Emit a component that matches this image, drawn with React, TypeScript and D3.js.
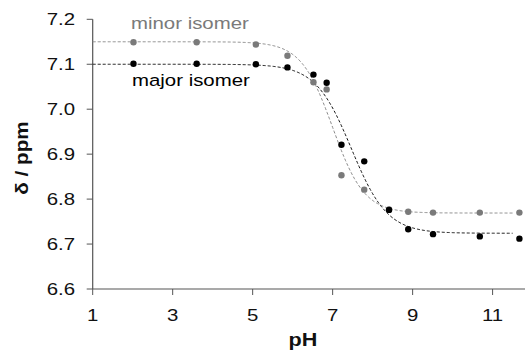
import React from "react";
import * as d3 from "d3";

const majorPH = [2.02, 3.6, 5.08, 5.87, 6.52, 6.85, 7.22, 7.79, 8.41, 8.89, 9.51, 10.68, 11.67];
const majorShift = [7.101, 7.101, 7.1, 7.093, 7.077, 7.059, 6.921, 6.884, 6.776, 6.733, 6.722, 6.717, 6.712];
const minorPH = [2.02, 3.6, 5.08, 5.87, 6.52, 6.85, 7.22, 7.79, 8.41, 8.89, 9.51, 10.68, 11.67];
const minorShift = [7.149, 7.149, 7.144, 7.119, 7.06, 7.044, 6.853, 6.821, 6.777, 6.772, 6.77, 6.77, 6.77];

// fitted titration parameters: [top, bottom, pKa, hill]
const majorFit = [7.1, 6.724, 7.47, 0.97];
const minorFit = [7.15, 6.769, 7.0, 1.1];
const fitRange = [1, 11.5];

const xTicks = [1, 3, 5, 7, 9, 11];
const yTicks = [6.6, 6.7, 6.8, 6.9, 7.0, 7.1, 7.2];

const W = 525;
const H = 351;

export default function App() {
  const x = d3.scaleLinear().domain([1, 11.81]).range([92.7, 525]);
  const y = d3.scaleLinear().domain([6.6, 7.2]).range([289, 19.3]);
  const FONT = "Arial, 'Liberation Sans', sans-serif";

  const fitPts = (p: number[]) => {
    const xs = d3.range(fitRange[0], fitRange[1] + 0.001, 0.02);
    return xs.map((v) => [v, p[1] + (p[0] - p[1]) / (1 + Math.pow(10, p[3] * (v - p[2])))] as [number, number]);
  };
  const line = d3
    .line<[number, number]>()
    .x((d) => x(d[0]))
    .y((d) => y(d[1]));

  const sx = 1.2;
  const fs = 17;

  return (
    <svg width={W} height={H} style={{ position: "absolute", left: 0, top: 0, background: "#fff" }}>
      {/* axes */}
      <line x1={x(1)} x2={x(1)} y1={y(7.2)} y2={y(6.6)} stroke="#555" strokeWidth={1.2} />
      <line x1={x(1)} x2={W} y1={y(6.6)} y2={y(6.6)} stroke="#555" strokeWidth={1.2} />
      {yTicks.map((t) => (
        <g key={"y" + t}>
          <line x1={x(1) - 6} x2={x(1)} y1={y(t)} y2={y(t)} stroke="#555" strokeWidth={1} />
          <text
            transform={`translate(75,${y(t) + 6}) scale(${sx},1)`}
            textAnchor="end"
            fontFamily={FONT}
            fontSize={fs}
            fill="#111"
          >
            {t.toFixed(1)}
          </text>
        </g>
      ))}
      {xTicks.map((t) => (
        <g key={"x" + t}>
          <line x1={x(t)} x2={x(t)} y1={y(6.6)} y2={y(6.6) + 6} stroke="#555" strokeWidth={1} />
          <text
            transform={`translate(${x(t)},${320.5}) scale(${sx},1)`}
            textAnchor="middle"
            fontFamily={FONT}
            fontSize={fs}
            fill="#111"
          >
            {t}
          </text>
        </g>
      ))}
      <text
        transform={`translate(303,346) scale(${sx},1)`}
        textAnchor="middle"
        fontFamily={FONT}
        fontSize={18}
        fontWeight="bold"
        fill="#111"
      >
        pH
      </text>
      <text
        transform={`translate(28,158) rotate(-90) scale(1.15,1)`}
        textAnchor="middle"
        fontFamily={FONT}
        fontSize={18}
        fontWeight="bold"
        fill="#111"
      >
        δ / ppm
      </text>

      {/* fit curves */}
      <path d={line(fitPts(minorFit)) || ""} fill="none" stroke="#8a8a8a" strokeWidth={1} strokeDasharray="3,2" />
      <path d={line(fitPts(majorFit)) || ""} fill="none" stroke="#111" strokeWidth={1} strokeDasharray="3,2" />

      {/* points */}
      {minorPH.map((p, i) => (
        <circle key={"mi" + i} cx={x(p)} cy={y(minorShift[i])} r={3.2} fill="#7a7a7a" />
      ))}
      {majorPH.map((p, i) => (
        <circle key={"ma" + i} cx={x(p)} cy={y(majorShift[i])} r={3.2} fill="#000" />
      ))}

      {/* labels */}
      <text
        transform={`translate(131,29) scale(${sx},1)`}
        fontFamily={FONT}
        fontSize={fs}
        fill="#7a7a7a"
      >
        minor isomer
      </text>
      <text
        transform={`translate(132,86) scale(${sx},1)`}
        fontFamily={FONT}
        fontSize={fs}
        fill="#000"
      >
        major isomer
      </text>
    </svg>
  );
}
